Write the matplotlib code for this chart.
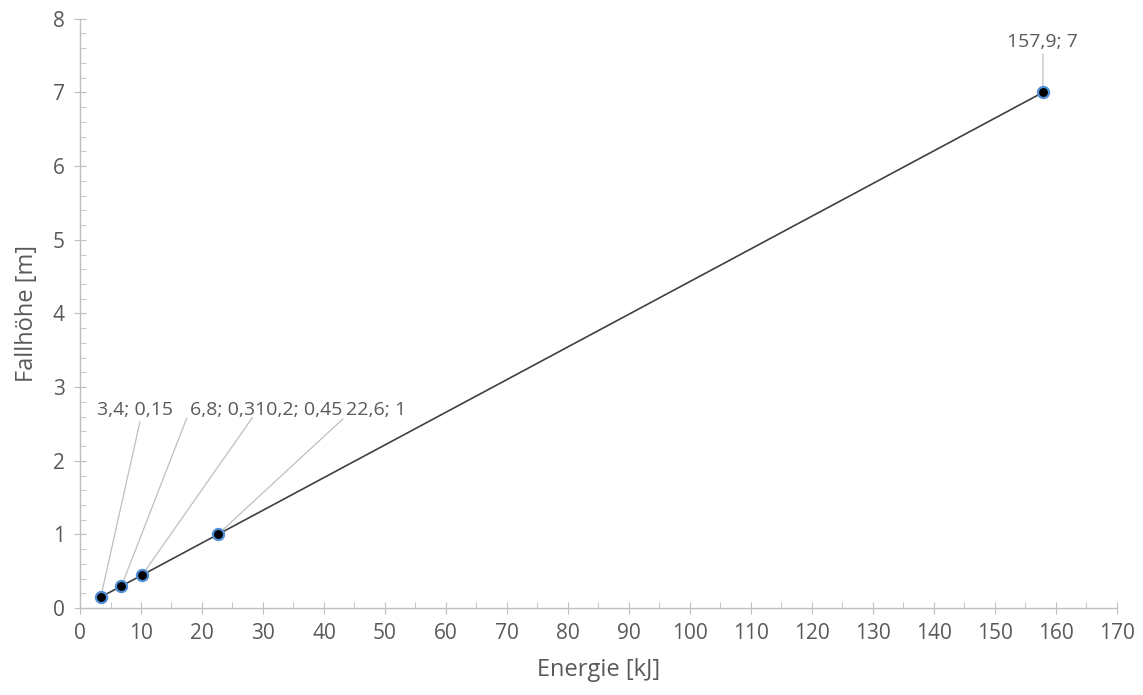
import matplotlib.pyplot as plt
from matplotlib.ticker import MultipleLocator

energie = [3.4, 6.8, 10.2, 22.6, 157.9]
fallhoehe = [0.15, 0.3, 0.45, 1, 7]
labels = ['3,4; 0,15', '6,8; 0,3', '10,2; 0,45', '22,6; 1', '157,9; 7']

# label placement (data coords) and where the leader leaves the text box
label_pos = [(9.0, 2.69), (23.3, 2.69), (35.9, 2.69), (48.5, 2.69), (157.9, 7.68)]
label_rel = [(0.58, 0.1), (0.0, 0.45), (0.0, 0.3), (0.05, 0.3), (0.5, 0.0)]

plt.rcParams['font.family'] = ['Open Sans', 'DejaVu Sans']
grey = '#595959'
axis_col = '#bfbfbf'

fig = plt.figure(figsize=(11.43, 6.95), dpi=100)
ax = fig.add_axes([0.07, 0.125, 0.907, 0.848])

ax.plot(energie, fallhoehe, color='#404040', lw=1.2, zorder=3,
        marker='o', markersize=8, markerfacecolor='black',
        markeredgecolor='#4f8fd6', markeredgewidth=1.6)

for x, y, t, p, r in zip(energie, fallhoehe, labels, label_pos, label_rel):
    ax.annotate(t, xy=(x, y), xytext=p, ha='center', va='center',
                fontsize=14, color=grey, zorder=2,
                arrowprops=dict(arrowstyle='-', color='#bfbfbf', lw=0.9,
                                shrinkA=0, shrinkB=4, relpos=r))

ax.set_xlim(0, 170)
ax.set_ylim(0, 8)
ax.xaxis.set_major_locator(MultipleLocator(10))
ax.xaxis.set_minor_locator(MultipleLocator(5))
ax.yaxis.set_major_locator(MultipleLocator(1))
ax.yaxis.set_minor_locator(MultipleLocator(0.2))

for s in ['top', 'right']:
    ax.spines[s].set_visible(False)
for s in ['left', 'bottom']:
    ax.spines[s].set_color(axis_col)
    ax.spines[s].set_linewidth(1)

ax.tick_params(which='major', direction='inout', length=8, color=axis_col,
               labelsize=15, labelcolor=grey, pad=7)
ax.tick_params(which='minor', direction='in', length=4, color=axis_col)

ax.set_xlabel('Energie [kJ]', fontsize=17, color=grey, labelpad=10)
ax.set_ylabel('Fallhöhe [m]', fontsize=17, color=grey, labelpad=10)

fig.savefig('out.png', dpi=100)
